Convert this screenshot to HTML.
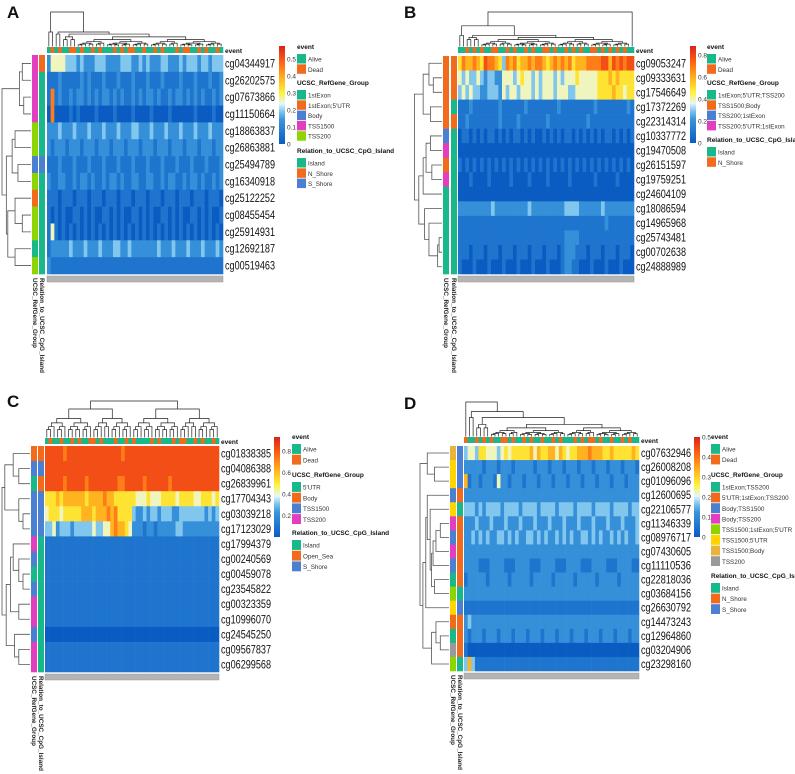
<!DOCTYPE html>
<html><head><meta charset="utf-8"><style>
html,body{margin:0;padding:0;background:#fff;}
svg{display:block;font-family:"Liberation Sans",Arial,sans-serif;}
</style></head><body>
<svg id="fig" width="795" height="774" viewBox="0 0 795 774" xmlns="http://www.w3.org/2000/svg">
<defs>
<linearGradient id="cbg" x1="0" y1="1" x2="0" y2="0">
<stop offset="0" stop-color="#0a5cc2"/><stop offset="0.25" stop-color="#3a95dc"/><stop offset="0.33" stop-color="#7cc4ec"/><stop offset="0.41" stop-color="#e8f6f9"/><stop offset="0.52" stop-color="#fff23a"/><stop offset="0.67" stop-color="#ffb21e"/><stop offset="0.83" stop-color="#ff6414"/><stop offset="1" stop-color="#d9241a"/>
</linearGradient>
</defs>
</svg>
<script>
// ---------- DATA ----------
const aLabels=["cg04344917","cg26202575","cg07673866","cg11150664","cg18863837","cg26863881","cg25494789","cg16340918","cg25122252","cg08455454","cg25914931","cg12692187","cg00519463"];
const aValues=[
"244443332322233322223332232322233222323332332333",
"111211111212111211121112111211121111211121112112",
"171211212212121221212112121221211212212121211212",
"070000101000010000100001000010000100000010000100",
"222322232223222322232223322232223222322232223222",
"212221222122212221222122212221222122212221222122",
"111211121112111211121112111211121112111211121112",
"211221121221211212212112211221121221121221211212",
"111011101110111011101110111011101110111011101110",
"101010011010100110101001101010011010100110101001",
"141010101010101010101010101010101010101010101010",
"122222322232223222332232222222322232223222322232",
"211111111111111111111111111111111111111111111111"];
const aEvent="adadaaddadaadadaaadadaddaadaadadaaadaddaadadaada";
const aUcsc=["pink","pink","pink","pink","lime","lime","blue","lime","orange","lime","lime","green","lime"];
const aCpg=["orange","green","green","green","green","green","blue","green","green","green","green","green","green"];
const aTicks=[0,0.1,0.2,0.3,0.4,0.5];

const bLabels=["cg09053247","cg09333631","cg17546649","cg17372269","cg22314314","cg10337772","cg19470508","cg26151597","cg19759251","cg24604109","cg18086594","cg14965968","cg25743481","cg00702638","cg24888989"];
const bValues=[
"576676587765376756676776567676756667777886878788",
"434334323322444345443434443434445444445556565555",
"343433223332434434443434443444334444445555655455",
"111211111112111111211111111211111111121111111121",
"112111111112111121111111211111111112111111111111",
"011010101101010110101001010101101010101011010101",
"000000000000000000000000000000000000000000000000",
"101010101010101010101010101010101010101010101010",
"000100001000001000010000100000100000010000010000",
"000000000000000000000000000000000000000000000000",
"222222222322222222232222222223333222222322222222",
"111111111111111111111111111111111111111121111111",
"111111111111111111111111111112222111111111111111",
"111011101110111011101110111012221110111011101110",
"100010001000100010001000100012211000100010001000"];
const bEvent="aadadadaaddaadadaadadaaddadaadadadaaddadadadadaa";
const bUcsc=["orange","orange","orange","orange","orange","blue","pink","orange","pink","green","green","green","green","green","green"];
const bCpg=["orange","orange","orange","green","orange","green","green","green","green","green","green","green","green","green","green"];
const bTicks=[0,0.2,0.4,0.6,0.8];

const cLabels=["cg01838385","cg04086388","cg26839961","cg17704343","cg03039218","cg17123029","cg17994379","cg00240569","cg00459078","cg23545822","cg00323359","cg10996070","cg24545250","cg09567837","cg06299568"];
const cValues=[
"888887888888888888888788888888888888888888888888",
"888888888888888888888888888888888888888888888888",
"888887888887888888887788888788888878888888888888",
"555656666665666676655555544454445555455554455545",
"455545555566656667675555322323323332233333332323",
"334233323333343344676654222122122222332222222222",
"111111111111111111111111111111111111111111111111",
"111111111111111111111111111111111111111111111111",
"111111111111111111111111111111111111111111111111",
"111111111111111111111111111111111111111111111111",
"111111111111111111111111111111111111111111111111",
"111111111111111111111111111111111111111111111111",
"000000000000000000000000000000000000000000000000",
"111111111111111111111111111111111111111111111111",
"111111111111111111111111111111111111111111111111"];
const cEvent="adaadaadadaaddadaaadaadadaaaadadaaadaddaadadaada";
const cUcsc=["orange","blue","green","blue","blue","blue","pink","blue","green","blue","pink","pink","blue","pink","pink"];
const cCpg=["orange","blue","orange","blue","blue","blue","green","green","green","green","green","green","green","green","green"];
const cTicks=[0.2,0.4,0.6,0.8];

const dLabels=["cg07632946","cg26008208","cg01096096","cg12600695","cg22106577","cg11346339","cg08976717","cg07430605","cg11110536","cg22818036","cg03684156","cg26630792","cg14473243","cg12964860","cg03204906","cg23298160"];
const dValues=[
"344355444345455555646556646545566676665565555565",
"222221222122212222212221222122212221222122212221",
"612212221422122212221222122212221222122212221222",
"222222222222222222222222222222222222222222222222",
"333232333323333233332333323333233332333323333233",
"222322232223222322232223222322232223222322232223",
"223232322332323223323232232323223323232232323223",
"222222222222222222222222222222222222222222222222",
"222211122221112222111222211122221112222111222211",
"122222122222122222122222122222122222122222122222",
"222222222222222222222222222222222222222222222222",
"111111111111111111111111111111111111111111111111",
"232222222222222222222222222222222222222222222222",
"212221222122212221222122212221222122212221222122",
"100000000000000000000000000000000000000000000000",
"363111111111111111111111111111111111111111111111"];
const dEvent="daadadadaaddadaadadaadaadadaaadadaddadaadaadada";
const dUcsc=["gold","yellow","yellow","blue","yellow","pink","blue","pink","blue","green","lime","yellow","orange","green","gray","lime"];
const dCpg=["blue","blue","blue","orange","green","orange","orange","orange","orange","orange","green","blue","orange","orange","orange","green"];
const dTicks=[0,0.1,0.2,0.3,0.4,0.5];

// row dendrogram merges [childA, childB, height]; indices >= n are clusters
const aMerges=[[2,3,.25],[0,1,.3],[13,14,.4],[4,5,.55],[6,7,.45],[16,17,.65],[9,10,.3],[8,19,.55],[11,12,.55],[20,21,.8],[18,22,.85],[15,23,1]];
const bMerges=[[1,2,.3],[0,15,.45],[3,4,.4],[16,17,.65],[5,6,.4],[7,8,.35],[19,20,.55],[21,9,.65],[12,13,.1],[23,14,.15],[11,24,.45],[10,25,.6],[22,26,.8],[18,27,.95]];
const cMerges=[[1,2,.4],[0,15,.6],[4,5,.25],[3,17,.4],[16,18,.9],[8,9,.25],[7,20,.4],[6,21,.6],[10,11,.4],[22,23,.7],[13,14,.4],[12,25,.55],[24,26,.85],[19,27,1]];
const dMerges=[[1,2,.5],[0,16,.75],[5,6,.3],[18,7,.45],[19,8,.55],[9,10,.5],[20,21,.6],[4,22,.65],[3,23,.75],[11,24,.8],[13,14,.3],[12,26,.45],[15,27,.6],[25,28,.9],[17,29,1]];

// ---------- RENDER ----------
const NS="http://www.w3.org/2000/svg";
const svg=document.getElementById("fig");
const COL={green:"#18b88a",orange:"#f26b1d",blue:"#4a7fd1",pink:"#e23fc0",lime:"#8fd400",yellow:"#ffd400",gold:"#e8b53a",gray:"#9a9a9a"};
const STOPS=[[0,[10,92,194]],[.25,[58,149,220]],[.33,[124,196,236]],[.41,[232,246,249]],[.52,[255,242,58]],[.67,[255,178,30]],[.83,[255,100,20]],[1,[217,36,26]]];
function heat(t){t=Math.max(0,Math.min(1,t));for(let i=1;i<STOPS.length;i++){if(t<=STOPS[i][0]){const a=STOPS[i-1],b=STOPS[i];const f=(t-a[0])/(b[0]-a[0]);const c=a[1].map((v,k)=>Math.round(v+(b[1][k]-v)*f));return `rgb(${c[0]},${c[1]},${c[2]})`;}}return "rgb(217,36,26)";}
function el(tag,attrs,parent){const e=document.createElementNS(NS,tag);for(const k in attrs)e.setAttribute(k,attrs[k]);(parent||svg).appendChild(e);return e;}

function rowDend(g,merges,n,rowY,xLeaf,xRoot){
  const pos=[];for(let i=0;i<n;i++)pos.push({y:rowY(i),x:xLeaf});
  let d="";
  merges.forEach(m=>{const a=pos[m[0]],b=pos[m[1]];const x=xLeaf-(xLeaf-xRoot)*m[2];
    d+=`M${a.x},${a.y}H${x}V${b.y}H${b.x}`;pos.push({x:x,y:(a.y+b.y)/2});});
  const p=el("path",{d:d,fill:"none",stroke:"#555","stroke-width":0.8},g);
  
  
}
function colDend(g,x0,cw,yTop,yBot,fracs,hts){
  let d="";
  function node(a,b,depth){
    if(b-a<=1)return {x:x0+(a+0.5)*cw,y:yBot};
    const f=fracs[depth]!==undefined?fracs[depth]:0.5;
    let k=a+Math.round((b-a)*f);if(k<=a)k=a+1;if(k>=b)k=b-1;
    const L=node(a,k,depth+1),R=node(k,b,depth+1);
    const h=hts[depth]!==undefined?hts[depth]:hts[hts.length-1]*Math.pow(0.7,depth-hts.length+1);
    const y=yBot-(yBot-yTop)*h;
    d+=`M${L.x},${L.y}V${y}H${R.x}V${R.y}`;
    return {x:(L.x+R.x)/2,y:y};
  }
  node(0,48,0);
  const p=el("path",{d:d,fill:"none",stroke:"#222","stroke-width":0.7},g);
  
  
}

function panel(P){
  const g=el("g",{});
  
  
  const n=P.labels.length,ncol=48;
  const cw=(P.hx1-P.hx0)/ncol,rh=(P.hy1-P.hy0)/n;
  const rowY=i=>P.hy0+(i+0.5)*rh;
  const L=el("text",{x:P.letter[0],y:P.letter[1],"font-size":17,"font-weight":"bold",fill:"#111"},g);L.textContent=P.letterText;
  
  
  colDend(g,P.hx0,cw,P.dTop,P.evY0-0.5,P.fracs,P.hts);
  for(let j=0;j<ncol;j++){
    const r=el("rect",{x:P.hx0+j*cw,y:P.evY0,width:cw+0.3,height:P.evY1-P.evY0,fill:P.event[j]==="d"?COL.orange:COL.green},g);
    
    
  }
  const et=el("text",{x:P.hx1+2,y:P.evY1,"font-size":6.5,"font-weight":"bold",fill:"#111"},g);et.textContent="event";
  
  
  P.values.forEach((s,i)=>{for(let j=0;j<ncol;j++){
    const t=parseInt(s[j])/9;
    const r=el("rect",{x:P.hx0+j*cw,y:P.hy0+i*rh,width:cw+0.3,height:rh+0.3,fill:heat(t)},g);
    
    
  }});
  const gb=el("rect",{x:P.hx0,y:P.hy1+2,width:P.hx1-P.hx0,height:6,fill:"#b4b4b4",stroke:"#999","stroke-width":0.5},g);
  
  
  [[P.ucsc,P.ucX],[P.cpg,P.cpX]].forEach(([arr,x])=>{arr.forEach((c,i)=>{
    const r=el("rect",{x:x,y:P.hy0+i*rh,width:6,height:rh+0.3,fill:COL[c]},g);
    
    
  });});
  const t1=el("text",{x:0,y:0,"font-size":6.5,"font-weight":"bold",fill:"#222",textLength:70,lengthAdjust:"spacingAndGlyphs",transform:`translate(${P.ucX+1},${P.hy1+4}) rotate(90)`},g);t1.textContent="UCSC_RefGene_Group";
  
  
  const t2=el("text",{x:0,y:0,"font-size":6.5,"font-weight":"bold",fill:"#222",textLength:95,lengthAdjust:"spacingAndGlyphs",transform:`translate(${P.cpX+1},${P.hy1+4}) rotate(90)`},g);t2.textContent="Relation_to_UCSC_CpG_Island";
  
  
  rowDend(g,P.merges,n,rowY,P.ucX-1,P.dendRoot);
  P.labels.forEach((lab,i)=>{
    const t=el("text",{x:P.hx1+2,y:rowY(i)+4,"font-size":11.5,fill:"#111",textLength:50,lengthAdjust:"spacingAndGlyphs"},g);t.textContent=lab;
    
    
  });
  const cb=el("rect",{x:P.cbX,y:P.cbY0,width:6,height:P.cbY1-P.cbY0,fill:"url(#cbg)"},g);
  
  
  P.ticks.forEach(v=>{
    const y=P.cbY1-(v/P.vmax)*(P.cbY1-P.cbY0);
    const t=el("text",{x:P.cbX+8,y:y+2.5,"font-size":6.5,fill:"#333"},g);t.textContent=String(v);
    
    
  });
  P.legends.forEach((lg,k)=>{
    const ty=P.lgY[k];
    const tt=el("text",{x:P.lgX,y:ty,"font-size":6.5,"font-weight":"bold",fill:"#111"},g);tt.textContent=lg[0];
    
    
    lg[1].forEach((it,m)=>{
      const y=ty+5+m*P.sw;
      const r=el("rect",{x:P.lgX,y:y,width:9,height:P.sw-0.8,fill:COL[it[1]]},g);
      
      
      const t=el("text",{x:P.lgX+11,y:y+P.sw/2+2.3,"font-size":6.3,fill:"#333"},g);t.textContent=it[0];
      
      
    });
  });
}
const EV=["event",[["Alive","green"],["Dead","orange"]]];
panel({name:"panel-a",letterText:"A",letter:[7,18],labels:aLabels,values:aValues,event:aEvent,ucsc:aUcsc,cpg:aCpg,merges:aMerges,ticks:aTicks,vmax:0.576,
 hx0:47,hx1:223,hy0:55,hy1:274,evY0:47,evY1:53,dTop:12,fracs:[0.04,0.05,0.08,0.5,0.4,0.6],hts:[1,0.42,0.36,0.28,0.2,0.14],
 ucX:32,cpX:39,dendRoot:2,cbX:279,cbY0:46,cbY1:144,lgX:297,lgY:[49,85,153],sw:10.3,
 legends:[EV,["UCSC_RefGene_Group",[["1stExon","green"],["1stExon;5'UTR","orange"],["Body","blue"],["TSS1500","pink"],["TSS200","lime"]]],["Relation_to_UCSC_CpG_Island",[["Island","green"],["N_Shore","orange"],["S_Shore","blue"]]]]});
panel({name:"panel-b",letterText:"B",letter:[404,18],labels:bLabels,values:bValues,event:bEvent,ucsc:bUcsc,cpg:bCpg,merges:bMerges,ticks:bTicks,vmax:0.88,
 hx0:458,hx1:634,hy0:56,hy1:274,evY0:47,evY1:53,dTop:12,fracs:[0.97,0.04,0.08,0.5,0.45,0.55],hts:[1,0.6,0.32,0.26,0.2,0.14],
 ucX:443,cpX:451,dendRoot:413,cbX:690,cbY0:46,cbY1:143,lgX:707,lgY:[49,85,142],sw:10.3,
 legends:[EV,["UCSC_RefGene_Group",[["1stExon;5'UTR;TSS200","green"],["TSS1500;Body","orange"],["TSS200;1stExon","blue"],["TSS200;5'UTR;1stExon","pink"]]],["Relation_to_UCSC_CpG_Island",[["Island","green"],["N_Shore","orange"]]]]});
panel({name:"panel-c",letterText:"C",letter:[7,407],labels:cLabels,values:cValues,event:cEvent,ucsc:cUcsc,cpg:cCpg,merges:cMerges,ticks:cTicks,vmax:0.93,
 hx0:45,hx1:219,hy0:446,hy1:672,evY0:438,evY1:444,dTop:401,fracs:[0.5,0.55,0.45,0.5],hts:[1,0.78,0.52,0.4,0.3,0.22,0.15],
 ucX:31,cpX:38,dendRoot:2,cbX:274,cbY0:437,cbY1:537,lgX:292,lgY:[439,477,535],sw:10.7,
 legends:[EV,["UCSC_RefGene_Group",[["5'UTR","green"],["Body","orange"],["TSS1500","blue"],["TSS200","pink"]]],["Relation_to_UCSC_CpG_Island",[["Island","green"],["Open_Sea","orange"],["S_Shore","blue"]]]]});
panel({name:"panel-d",letterText:"D",letter:[404,409],labels:dLabels,values:dValues,event:dEvent,ucsc:dUcsc,cpg:dCpg,merges:dMerges,ticks:dTicks,vmax:0.5,
 hx0:464,hx1:639,hy0:446,hy1:671,evY0:437,evY1:443,dTop:402,fracs:[0.03,0.05,0.08,0.5,0.4,0.6],hts:[1,0.72,0.55,0.35,0.25,0.17],
 ucX:450,cpX:457,dendRoot:420,cbX:694,cbY0:437,cbY1:537,lgX:711,lgY:[439,477,578],sw:10.6,
 legends:[EV,["UCSC_RefGene_Group",[["1stExon;TSS200","green"],["5'UTR;1stExon;TSS200","orange"],["Body;TSS1500","blue"],["Body;TSS200","pink"],["TSS1500;1stExon;5'UTR","lime"],["TSS1500;5'UTR","yellow"],["TSS1500;Body","gold"],["TSS200","gray"]]],["Relation_to_UCSC_CpG_Island",[["Island","green"],["N_Shore","orange"],["S_Shore","blue"]]]]});
</script>
</body></html>
